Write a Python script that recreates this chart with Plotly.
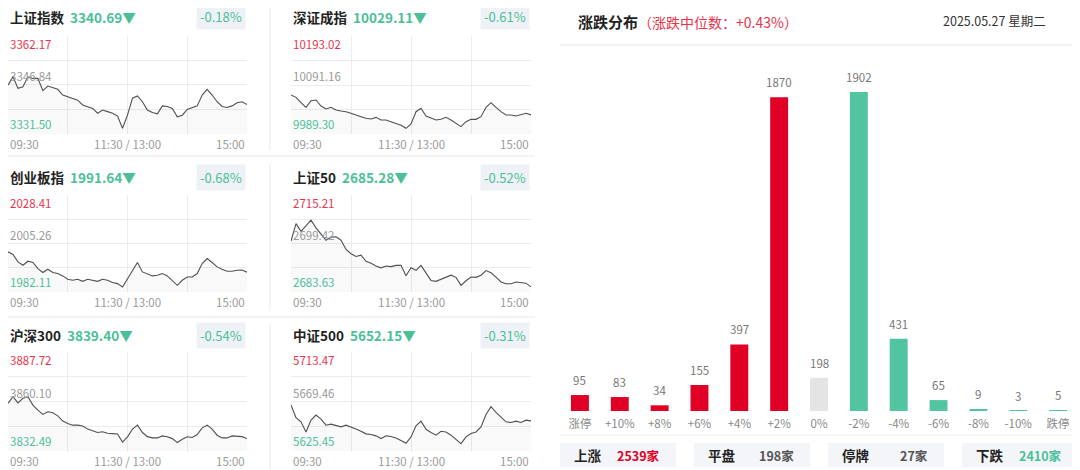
import plotly.graph_objects as go

# the page body adds an 8px margin, so the figure is a bit smaller and
# all pixel positions below are given in screenshot coordinates
OFF = 8
W, H = 1080 - OFF, 470 - OFF
FONT = "Noto Sans CJK SC"
RED = "#e8334a"
GREEN = "#4cbf98"
BAR_RED = "#e00026"
BAR_GREEN = "#52c4a0"
GRID = "#ececec"

# ---- index snapshot data ----
index_names = ["上证指数", "深证成指", "创业板指", "上证50", "沪深300", "中证500"]
index_last = [3340.69, 10029.11, 1991.64, 2685.28, 3839.40, 5652.15]
index_pct = [-0.18, -0.61, -0.68, -0.52, -0.54, -0.31]
index_high = [3362.17, 10193.02, 2028.41, 2715.21, 3887.72, 5713.47]
index_prev = [3346.84, 10091.16, 2005.26, 2699.42, 3860.10, 5669.46]
index_low = [3331.50, 9989.30, 1982.11, 2683.63, 3832.49, 5625.45]

# minutes since 09:30 (trading minutes, lunch break removed), every 5 min
minutes = list(range(0, 241, 5))
time_labels = ["09:30", "11:30 / 13:00", "15:00"]
time_label_pos = [0, 120, 240]

sh_index = [3346.8, 3349.4, 3345.8, 3346.3, 3349.4, 3348.9, 3348.9, 3345.1, 3346.5, 3346.0,
            3345.5, 3343.7, 3343.2, 3342.7, 3342.1, 3340.6, 3340.1, 3339.5, 3338.0, 3339.0,
            3338.5, 3338.0, 3337.1, 3333.3, 3337.4, 3342.7, 3343.4, 3341.6, 3339.0, 3338.2,
            3337.8, 3340.3, 3340.1, 3339.5, 3336.9, 3337.4, 3339.2, 3339.8, 3340.3, 3343.7,
            3345.5, 3343.7, 3341.6, 3340.1, 3339.8, 3340.3, 3341.3, 3341.6, 3340.7]
sz_index = [10070.4, 10065.5, 10054.4, 10044.7, 10058.6, 10060.0, 10047.5, 10041.3, 10044.7, 10039.2,
            10037.1, 10035.7, 10032.3, 10028.1, 10025.3, 10021.9, 10020.5, 10023.9, 10018.4, 10018.4,
            10014.9, 10010.1, 10007.3, 10001.1, 10010.1, 10035.7, 10042.7, 10026.7, 10023.3, 10018.4,
            10019.8, 10023.9, 10018.4, 10011.5, 10004.6, 10014.9, 10019.8, 10019.8, 10025.3, 10044.7,
            10054.4, 10044.7, 10035.7, 10028.8, 10028.8, 10026.7, 10029.5, 10032.3, 10029.1]
cyb_index = [2001.3, 2000.0, 1996.5, 1994.9, 1996.8, 1996.2, 1993.3, 1991.4, 1993.0, 1991.4,
             1990.9, 1989.8, 1988.2, 1987.7, 1988.2, 1987.2, 1988.2, 1987.7, 1987.2, 1988.2,
             1987.7, 1986.6, 1986.1, 1984.5, 1988.2, 1992.5, 1996.2, 1991.7, 1990.7, 1989.8,
             1990.1, 1990.9, 1989.8, 1987.7, 1985.3, 1987.7, 1989.3, 1989.3, 1990.9, 1995.7,
             1998.1, 1996.2, 1994.1, 1993.0, 1992.0, 1992.0, 1992.5, 1992.6, 1991.6]
sz50_index = [2700.2, 2705.9, 2703.4, 2705.2, 2707.0, 2704.5, 2702.4, 2700.5, 2701.5, 2701.6,
              2700.5, 2697.5, 2696.1, 2695.2, 2695.6, 2693.6, 2693.0, 2692.1, 2691.5, 2692.1,
              2691.9, 2692.3, 2692.3, 2688.9, 2691.5, 2690.7, 2692.3, 2689.9, 2687.4, 2687.1,
              2687.8, 2688.4, 2689.1, 2688.4, 2685.8, 2687.3, 2688.5, 2688.4, 2689.1, 2690.6,
              2689.9, 2688.5, 2686.9, 2686.3, 2686.3, 2686.9, 2686.7, 2686.5, 2685.3]
hs300_index = [3859.1, 3862.8, 3859.3, 3861.9, 3862.8, 3858.1, 3855.3, 3852.9, 3854.4, 3853.8,
               3852.1, 3849.2, 3847.8, 3846.9, 3846.9, 3846.4, 3844.7, 3843.9, 3842.8, 3843.2,
               3842.4, 3842.2, 3842.0, 3837.5, 3840.4, 3844.7, 3846.9, 3842.8, 3840.5, 3839.8,
               3839.8, 3840.9, 3840.4, 3839.4, 3837.2, 3839.0, 3840.4, 3840.0, 3841.7, 3845.4,
               3846.9, 3844.7, 3841.3, 3839.8, 3839.8, 3840.9, 3840.5, 3840.5, 3839.4]
zz500_index = [5666.3, 5655.0, 5651.4, 5642.4, 5652.9, 5657.4, 5653.8, 5648.4, 5649.3, 5648.4,
               5646.9, 5648.4, 5646.9, 5645.1, 5643.0, 5640.7, 5640.1, 5638.9, 5636.5, 5638.9,
               5638.3, 5637.1, 5634.7, 5632.3, 5638.0, 5647.8, 5652.0, 5644.8, 5641.9, 5639.5,
               5643.0, 5642.4, 5639.5, 5635.9, 5632.0, 5638.0, 5641.0, 5642.4, 5646.9, 5657.9,
               5664.8, 5659.8, 5655.6, 5651.4, 5650.8, 5652.0, 5650.8, 5652.9, 5652.2]
index_series = [sh_index, sz_index, cyb_index, sz50_index, hs300_index, zz500_index]

# ---- up/down distribution ----
dist_labels = ["涨停", "+10%", "+8%", "+6%", "+4%", "+2%", "0%", "-2%", "-4%", "-6%", "-8%", "-10%", "跌停"]
dist_counts = [95, 83, 34, 155, 397, 1870, 198, 1902, 431, 65, 9, 3, 5]
median_change = "+0.43%"
trade_date = "2025.05.27 星期二"
summary_labels = ["上涨", "平盘", "停牌", "下跌"]
summary_counts = [2539, 198, 27, 2410]


def px(x):
    return min(max((x - OFF) / W, 0), 1)


def py(y):
    return min(max(1 - (y - OFF) / H, 0), 1)


fig = go.Figure()
annotations = []
shapes = []

# panel boxes in pixels: (left, right) and (top, bottom, title_y)
cols = [(8, 247), (291, 531)]
rows = [(36, 134, 17), (195, 292, 177), (352, 451, 335)]

for i, name in enumerate(index_names):
    l, r = cols[i % 2]
    t, b, ty = rows[i // 2]
    n = i + 1
    sfx = "" if n == 1 else str(n)
    xa, ya = "x" + sfx, "y" + sfx
    lo, hi, mid = index_low[i], index_high[i], index_prev[i]
    fig.add_trace(go.Scatter(
        x=minutes, y=index_series[i], xaxis=xa, yaxis=ya, mode="lines",
        line=dict(color="#505050", width=1.1), fill="tozeroy",
        fillcolor="rgba(0,0,0,0.025)", hoverinfo="skip", showlegend=False))
    q = (hi - lo) / 4
    fig.update_layout(**{
        "xaxis" + sfx: dict(domain=[px(l), px(r)], anchor=ya, range=[0, 240],
                            tickvals=[0, 60, 120, 180, 240], showticklabels=False,
                            showgrid=True, gridcolor=GRID, zeroline=False, showline=False),
        "yaxis" + sfx: dict(domain=[py(b), py(t)], anchor=xa, range=[lo, hi],
                            tickvals=[lo, lo + q, mid, hi - q, hi], showticklabels=False,
                            showgrid=True, gridcolor=GRID, zeroline=False, showline=False),
    })
    # y labels
    annotations.append(dict(xref=f"{xa} domain", yref=ya, x=0, y=hi, text=f"{hi:.2f}",
                            xanchor="left", yanchor="top", yshift=2, showarrow=False,
                            font=dict(size=11.5, color=RED, family=FONT)))
    annotations.append(dict(xref=f"{xa} domain", yref=ya, x=0, y=mid, text=f"{mid:.2f}",
                            xanchor="left", yanchor="bottom", yshift=-1, showarrow=False,
                            font=dict(size=11.5, color="#9a9a9a", family=FONT)))
    annotations.append(dict(xref=f"{xa} domain", yref=ya, x=0, y=lo, text=f"{lo:.2f}",
                            xanchor="left", yanchor="bottom", showarrow=False,
                            font=dict(size=11.5, color=GREEN, family=FONT)))
    # time labels
    for lab, pos in zip(time_labels, time_label_pos):
        anchor = "left" if pos == 0 else ("right" if pos == 240 else "center")
        annotations.append(dict(xref=xa, yref="paper", x=pos, y=py(b + 10), text=lab,
                                xanchor=anchor, yanchor="middle", showarrow=False,
                                font=dict(size=11.5, color="#9a9a9a", family=FONT)))
    # title
    annotations.append(dict(xref="paper", yref="paper", x=px(l), y=py(ty),
                            text=f"<b>{name}</b>&nbsp;&nbsp;<b><span style='color:{GREEN}'>{index_last[i]:.2f}▼</span></b>",
                            xanchor="left", yanchor="middle", showarrow=False,
                            font=dict(size=13.5, color="#222222", family=FONT)))
    annotations.append(dict(xref="paper", yref="paper", x=px(r - 1), y=py(ty),
                            text=f"{index_pct[i]:+.2f}%", bgcolor="#eef1f5", borderpad=3,
                            xanchor="right", yanchor="middle", showarrow=False,
                            font=dict(size=13, color=GREEN, family=FONT)))

# panel separators
for yy in [156, 317]:
    shapes.append(dict(type="line", xref="paper", yref="paper", x0=0, x1=px(535),
                       y0=py(yy), y1=py(yy), line=dict(color="#f0f0f0", width=1.5)))
for y0, y1 in [(8, 150), (163, 311), (324, 470)]:
    shapes.append(dict(type="line", xref="paper", yref="paper", x0=px(270), x1=px(270),
                       y0=py(y0), y1=py(y1), line=dict(color="#f0f0f0", width=1.5)))

# ---- distribution bar chart ----
bar_colors = [BAR_RED] * 6 + ["#e4e4e4"] + [BAR_GREEN] * 6
fig.add_trace(go.Bar(
    x=dist_labels, y=dist_counts, xaxis="x7", yaxis="y7",
    marker=dict(color=bar_colors, line=dict(width=0)),
    width=0.45, hoverinfo="skip", showlegend=False))
fig.update_layout(
    xaxis7=dict(domain=[px(560), px(1078)], anchor="y7", showgrid=False, zeroline=False,
                showline=False, ticks="", ticklabelstandoff=4,
                tickfont=dict(size=11.5, color="#888888", family=FONT)),
    yaxis7=dict(domain=[py(411), py(60)], anchor="x7", range=[0, 2092], visible=False),
)
for lab, cnt in zip(dist_labels, dist_counts):
    annotations.append(dict(xref="x7", yref="y7", x=lab, y=cnt, text=str(cnt), yshift=15,
                            xanchor="center", yanchor="middle", showarrow=False,
                            font=dict(size=11.5, color="#777777", family=FONT)))

annotations.append(dict(xref="paper", yref="paper", x=px(576), y=py(22),
                        text=f"<b>涨跌分布</b><span style='color:{RED};font-size:14px'>（涨跌中位数：{median_change}）</span>",
                        xanchor="left", yanchor="middle", showarrow=False,
                        font=dict(size=15, color="#222222", family=FONT)))
annotations.append(dict(xref="paper", yref="paper", x=px(1048), y=py(21), text=trade_date,
                        xanchor="right", yanchor="middle", showarrow=False,
                        font=dict(size=12.5, color="#333333", family=FONT)))
shapes.append(dict(type="line", xref="paper", yref="paper", x0=px(560), x1=1,
                   y0=py(45), y1=py(45), line=dict(color="#f0f0f0", width=1.5)))
shapes.append(dict(type="line", xref="paper", yref="paper", x0=px(560), x1=1,
                   y0=py(435), y1=py(435), line=dict(color="#eeeeee", width=1)))

summary_colors = [BAR_RED, "#555555", "#555555", GREEN]
for k, (lab, cnt) in enumerate(zip(summary_labels, summary_counts)):
    x0 = 560 + k * 134
    shapes.append(dict(type="rect", xref="paper", yref="paper", x0=px(x0), x1=px(x0 + 116),
                       y0=py(467), y1=py(443), fillcolor="#f3f5f9", line=dict(width=0), layer="below"))
    annotations.append(dict(xref="paper", yref="paper", x=px(x0 + 12), y=py(455), text=f"<b>{lab}</b>",
                            xanchor="left", yanchor="middle", showarrow=False,
                            font=dict(size=13.5, color="#222222", family=FONT)))
    annotations.append(dict(xref="paper", yref="paper", x=px(x0 + 102), y=py(455), text=f"<b>{cnt}家</b>",
                            xanchor="right", yanchor="middle", showarrow=False,
                            font=dict(size=12.5, color=summary_colors[k], family=FONT)))

fig.update_layout(
    width=W, height=H, margin=dict(l=0, r=0, t=0, b=0),
    paper_bgcolor="white", plot_bgcolor="white",
    font=dict(family=FONT), annotations=annotations, shapes=shapes,
)
fig.write_html("out.html")
